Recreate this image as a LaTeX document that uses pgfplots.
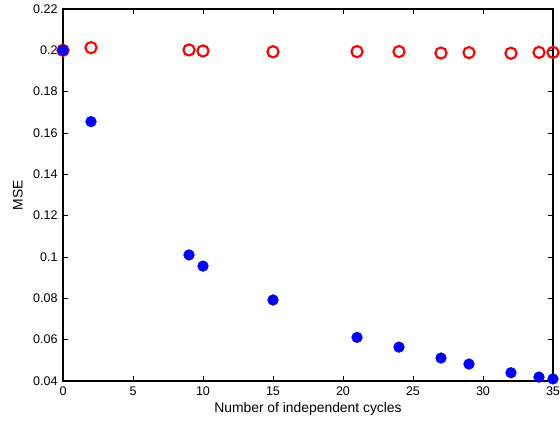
\documentclass[border=0pt]{standalone}
\usepackage{fontspec}
\setmainfont{Liberation Sans}
\usepackage{pgfplots}
\pgfplotsset{compat=1.18}
\begin{document}
\begin{tikzpicture}
\path[use as bounding box] (-47.25pt,-32.25pt) rectangle (372.75pt,285.75pt);
\begin{axis}[
  scale only axis,
  width=367.5pt, height=279pt,
  xmin=0, xmax=35, ymin=0.04, ymax=0.22,
  xtick={0,5,...,35},
  ytick={0.04,0.06,0.08,0.1,0.12,0.14,0.16,0.18,0.2,0.22},
  yticklabels={0.04,0.06,0.08,0.1,0.12,0.14,0.16,0.18,0.2,0.22},
  tick align=inside,
  major tick length=3.5pt,
  axis line style={line width=0.8pt},
  tick style={line width=0.6pt,black},
  /pgf/number format/assume math mode=true,
  tick label style={font=\fontsize{9.4}{11}\selectfont},
  xticklabel style={yshift=-1pt},
  yticklabel style={xshift=-0.5pt},
  label style={font=\fontsize{10.4}{12}\selectfont},
  xlabel={Number of independent cycles},
  ylabel={MSE},
  xlabel style={yshift=2pt},
  ylabel style={yshift=1pt},
  clip=false,
]
\addplot[only marks, mark=o, draw=red, mark size=4.2pt, line width=1.6pt] coordinates {
(0,0.2) (2,0.2013) (9,0.2002) (10,0.1997) (15,0.1993) (21,0.1994) (24,0.1994) (27,0.1987) (29,0.1989) (32,0.1986) (34,0.1990) (35,0.1990)
};
\addplot[only marks, mark=*, draw=blue, fill=blue, mark size=4.0pt] coordinates {
(0,0.2) (2,0.1655) (9,0.1010) (10,0.0956) (15,0.0792) (21,0.0611) (24,0.0564) (27,0.0511) (29,0.0482) (32,0.0440) (34,0.0419) (35,0.0410)
};
\end{axis}
\end{tikzpicture}
\end{document}
